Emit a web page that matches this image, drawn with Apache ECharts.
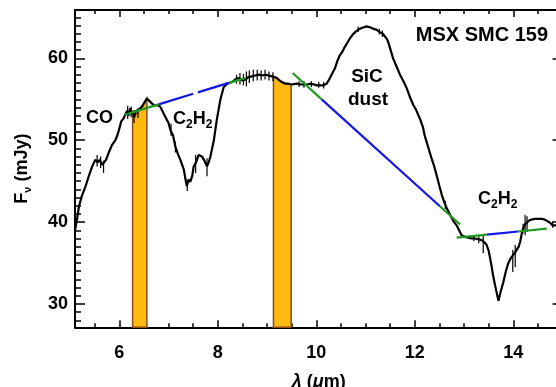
<!DOCTYPE html>
<html><head><meta charset="utf-8">
<script src="https://cdn.jsdelivr.net/npm/echarts@6/dist/echarts.min.js"></script>
<style>html,body{margin:0;padding:0;background:#fff}#c{width:556px;height:387px}</style>
</head><body><div id="c"></div>
<script>
// ---- data ----
const waveX = [5.10,5.14,5.18,5.24,5.31,5.38,5.45,5.51,5.56,5.60,5.65,5.68,5.73,5.78,5.85,5.92,5.96,5.99,6.04,6.09,6.12,6.16,6.19,6.22,6.26,6.30,6.33,6.36,6.41,6.46,6.51,6.56,6.61,6.66,6.72,6.77,6.83,6.88,6.93,7.00,7.04,7.09,7.14,7.19,7.24,7.31,7.35,7.37,7.41,7.44,7.48,7.51,7.56,7.61,7.65,7.68,7.72,7.75,7.78,7.82,7.85,7.92,7.98,8.05,8.12,8.19,8.29,8.35,8.42,8.49,8.56,8.62,8.69,8.76,8.83,8.90,8.96,9.03,9.10,9.20,9.25,9.30,9.37,9.44,9.50,9.60,9.70,9.81,9.90,10.01,10.14,10.21,10.26,10.31,10.38,10.43,10.48,10.53,10.58,10.63,10.68,10.74,10.79,10.85,10.92,10.97,11.02,11.09,11.16,11.22,11.29,11.35,11.39,11.43,11.46,11.51,11.56,11.63,11.70,11.77,11.84,11.90,11.97,12.02,12.07,12.12,12.17,12.20,12.24,12.29,12.34,12.39,12.44,12.50,12.55,12.60,12.65,12.70,12.75,12.80,12.85,12.90,12.95,13.02,13.09,13.15,13.22,13.29,13.36,13.42,13.46,13.50,13.53,13.56,13.59,13.63,13.67,13.70,13.74,13.80,13.85,13.90,13.95,14.00,14.04,14.07,14.11,14.14,14.17,14.20,14.24,14.27,14.32,14.37,14.44,14.51,14.58,14.64,14.70,14.75,14.80,14.87];
const fluxY = [39.0,40.3,41.9,43.2,44.3,45.6,46.8,47.6,47.3,47.6,47.0,46.8,47.6,48.4,49.4,50.0,50.6,51.2,52.3,52.7,53.1,53.6,53.0,53.9,53.4,52.8,53.5,53.3,53.8,54.1,54.6,55.1,54.8,54.5,54.2,54.3,54.1,53.5,52.9,52.1,51.2,50.6,49.2,48.3,47.6,46.4,45.0,44.4,45.2,44.9,45.6,46.8,47.3,48.2,48.3,48.0,47.6,47.4,46.8,47.4,48.0,50.0,52.5,54.9,56.5,56.9,57.1,57.4,57.6,57.3,57.4,57.7,57.8,57.9,58.0,57.9,58.0,57.9,57.8,57.6,57.3,57.1,56.9,56.9,56.8,56.9,56.8,56.8,56.9,56.7,56.7,56.9,57.4,58.0,58.8,59.7,60.4,60.8,61.4,61.9,62.4,62.9,63.2,63.5,63.7,63.8,63.9,63.8,63.6,63.5,63.2,63.0,62.8,62.4,62.0,61.0,60.0,59.0,58.0,57.2,56.3,55.3,54.3,53.8,53.1,52.4,51.5,50.6,49.8,48.8,47.8,46.9,45.8,44.4,43.3,42.4,41.7,41.1,40.5,40.0,39.6,39.0,38.4,38.2,38.1,38.0,38.0,37.9,37.8,37.5,37.2,36.5,35.6,34.6,33.5,32.3,31.2,30.4,31.4,32.7,34.0,35.0,35.6,36.0,36.3,36.4,37.0,37.6,38.5,39.2,39.7,39.9,40.2,40.3,40.4,40.4,40.4,40.3,40.1,39.9,39.6,39.6];
// error bars: [wavelength, low, high]
const errBars = [[5.55,46.8,48.2],[5.62,46.6,48.0],[5.68,46.0,47.5],[6.17,52.6,54.2],[6.24,52.8,54.1],[6.30,52.1,53.7],[6.38,52.7,53.9],[7.05,50.5,52.0],[7.14,48.5,49.8],[7.38,43.8,45.2],[7.55,46.0,48.2],[7.78,45.6,47.8],[8.38,56.9,58.0],[8.45,56.8,58.2],[8.52,56.7,58.1],[8.58,56.6,58.4],[8.64,57.0,58.5],[8.72,57.2,58.6],[8.80,57.3,58.6],[8.88,57.3,58.5],[8.96,57.4,58.6],[9.04,57.3,58.4],[9.12,57.2,58.3],[9.65,56.5,57.2],[9.75,56.4,57.2],[9.90,56.5,57.2],[10.05,56.4,57.1],[10.15,56.3,57.1],[10.85,63.2,63.9],[11.28,62.9,63.6],[11.34,62.6,63.4],[12.62,41.6,42.6],[13.20,37.7,38.4],[13.30,37.4,38.3],[13.39,36.2,38.3],[13.99,33.9,36.6],[14.04,34.5,37.2],[14.20,38.7,39.8],[14.24,38.4,40.9],[14.28,38.8,40.7],[14.80,39.3,40.1]];
// continuum fits: green ends, blue middle
const fitGreen = [[[6.11,53.1],[6.80,54.37]],[[8.22,57.0],[8.56,57.6]],[[9.52,58.2],[10.11,54.99]],[[12.51,41.93],[12.92,39.7]],[[12.85,38.1],[13.46,38.47]],[[14.10,38.85],[14.68,39.2]]];
const fitBlueDashed = [[[6.80,54.37],[8.22,57.0]]];
const fitBlue = [[[10.11,54.99],[12.51,41.93]],[[13.46,38.47],[14.10,38.85]]];
// shaded bands (x of top edge, flux of top edge)
const band1X = [6.27,6.30,6.36,6.46,6.56];
const band1Top = [52.8,52.8,53.3,54.1,55.1];
const band2X = [9.13,9.20,9.30,9.40,9.49];
const band2Top = [57.8,57.6,57.1,56.9,56.8];
// axes
const X_MIN = 5.1, X_MAX = 15.0, Y_MIN = 27.15, Y_MAX = 65.9;
const xMajor = [6,8,10,12,14];
const xMinor = [5.5,6.5,7,7.5,8.5,9,9.5,10.5,11,11.5,12.5,13,13.5,14.5];
const yMajor = [30,40,50,60];
const yMinor = [28,29,31,32,33,34,35,36,37,38,39,41,42,43,44,45,46,47,48,49,51,52,53,54,55,56,57,58,59,61,62,63,64,65];

const FONT = '"Liberation Sans", Arial, Helvetica, sans-serif';
const chart = echarts.init(document.getElementById('c'), null, {renderer:'canvas'});

function xAx(pos, ticks, len, showLine, showLabel) {
  return {
    type:'value', gridIndex:0, position:pos, min:X_MIN, max:X_MAX,
    axisLine:{show:showLine, onZero:false, lineStyle:{color:'#000', width:2}},
    axisTick:{show:true, inside:true, length:len, customValues:ticks, lineStyle:{color:'#000', width:1.5}},
    axisLabel:{show:showLabel, customValues:ticks, margin:17, color:'#000', fontSize:18, fontWeight:'bold', fontFamily:FONT},
    splitLine:{show:false}
  };
}
function yAx(pos, ticks, len, showLine, showLabel) {
  return {
    type:'value', gridIndex:0, position:pos, min:Y_MIN, max:Y_MAX,
    axisLine:{show:showLine, onZero:false, lineStyle:{color:'#000', width:2}},
    axisTick:{show:true, inside:true, length:len, customValues:ticks, lineStyle:{color:'#000', width:1.5}},
    axisLabel:{show:showLabel, customValues:ticks, margin:7, color:'#000', fontSize:18, fontWeight:'bold', fontFamily:FONT},
    splitLine:{show:false}
  };
}
const xA0 = xAx('bottom', xMajor, 7, true, true);
xA0.name = '{i|λ}{b| (}{i|μ}{b|m)}';
xA0.nameLocation = 'middle';
xA0.nameGap = 46;
xA0.nameTextStyle = {rich:{
  i:{fontSize:18, fontWeight:'bold', fontStyle:'italic', fontFamily:FONT, color:'#000'},
  b:{fontSize:18, fontWeight:'bold', fontFamily:FONT, color:'#000'}}};
const yA0 = yAx('left', yMajor, 10, true, true);
yA0.name = '{a|F}{s|ν}{a| (mJy)}';
yA0.nameLocation = 'middle';
yA0.nameGap = 42;
yA0.nameRotate = 90;
yA0.nameTextStyle = {rich:{
  a:{fontSize:18, fontWeight:'bold', fontFamily:FONT, color:'#000', lineHeight:22},
  s:{fontSize:11, fontWeight:'bold', fontFamily:FONT, color:'#000', verticalAlign:'bottom'}}};

function segSeries(segs, color, dashed) {
  return segs.map(s => ({
    type:'line', xAxisIndex:0, yAxisIndex:0, data:s, showSymbol:false, silent:true, z:5,
    lineStyle:{color:color, width:2.2, type: dashed ? [36,5] : 'solid'}, animation:false
  }));
}
function bandSeries(bx, bt) {
  return {
    type:'custom', xAxisIndex:0, yAxisIndex:0, z:1, animation:false, silent:true,
    data:[[bx[0], bt[0]]],
    renderItem:function(params, api){
      const pts = [api.coord([bx[0], Y_MIN])];
      for (let i=0;i<bx.length;i++) pts.push(api.coord([bx[i], bt[i]]));
      pts.push(api.coord([bx[bx.length-1], Y_MIN]));
      return {type:'polygon', shape:{points:pts}, style:{fill:'#FFB90F', stroke:'#8B4A1A', lineWidth:1.5}};
    }
  };
}

const option = {
  backgroundColor:'#fff',
  animation:false,
  grid:{left:75, top:10, width:487.5, height:317.3, containLabel:false, outerBoundsMode:'none'},
  xAxis:[xA0, xAx('bottom', xMinor, 4, false, false), xAx('top', xMajor, 7, true, false), xAx('top', xMinor, 4, false, false)],
  yAxis:[yA0, yAx('left', yMinor, 6, false, false), yAx('right', yMajor, 10, true, false), yAx('right', yMinor, 6, false, false)],
  series:[
    bandSeries(band1X, band1Top),
    bandSeries(band2X, band2Top),
    {type:'line', xAxisIndex:0, yAxisIndex:0, z:3, showSymbol:false, silent:true, animation:false,
     data: waveX.map((x,i)=>[x, fluxY[i]]), lineStyle:{color:'#000', width:2.2}},
    {type:'custom', xAxisIndex:0, yAxisIndex:0, z:3, animation:false, silent:true,
     data: errBars,
     renderItem:function(params, api){
       const p1 = api.coord([api.value(0), api.value(1)]);
       const p2 = api.coord([api.value(0), api.value(2)]);
       return {type:'line', shape:{x1:p1[0], y1:p1[1], x2:p2[0], y2:p2[1]}, style:{stroke:'#000', lineWidth:1.2}};
     }},
    ...segSeries(fitGreen, '#1f9a1f', false),
    ...segSeries(fitBlueDashed, '#1515e6', true),
    ...segSeries(fitBlue, '#1515e6', false)
  ],
  graphic:[
    {type:'text', x:99.5, y:118, z:10, style:{text:'CO', fill:'#000', font:'bold 18px ' + FONT, align:'center', verticalAlign:'middle'}},
    {type:'text', x:173, y:119, z:10, style:{text:'{a|C}{s|2}{a|H}{s|2}', align:'left', verticalAlign:'middle',
      rich:{a:{fontSize:18, fontWeight:'bold', fontFamily:FONT, fill:'#000', lineHeight:24}, s:{fontSize:12, fontWeight:'bold', fontFamily:FONT, fill:'#000', verticalAlign:'bottom'}}}},
    {type:'text', x:548, y:35, z:10, style:{text:'MSX SMC 159', fill:'#000', font:'bold 20px ' + FONT, align:'right', verticalAlign:'middle'}},
    {type:'text', x:367, y:77, z:10, style:{text:'SiC', fill:'#000', font:'bold 19px ' + FONT, align:'center', verticalAlign:'middle'}},
    {type:'text', x:368, y:100, z:10, style:{text:'dust', fill:'#000', font:'bold 19px ' + FONT, align:'center', verticalAlign:'middle'}},
    {type:'text', x:478, y:199, z:10, style:{text:'{a|C}{s|2}{a|H}{s|2}', align:'left', verticalAlign:'middle',
      rich:{a:{fontSize:18, fontWeight:'bold', fontFamily:FONT, fill:'#000', lineHeight:24}, s:{fontSize:12, fontWeight:'bold', fontFamily:FONT, fill:'#000', verticalAlign:'bottom'}}}}
  ]
};
chart.setOption(option);
</script>
</body></html>
